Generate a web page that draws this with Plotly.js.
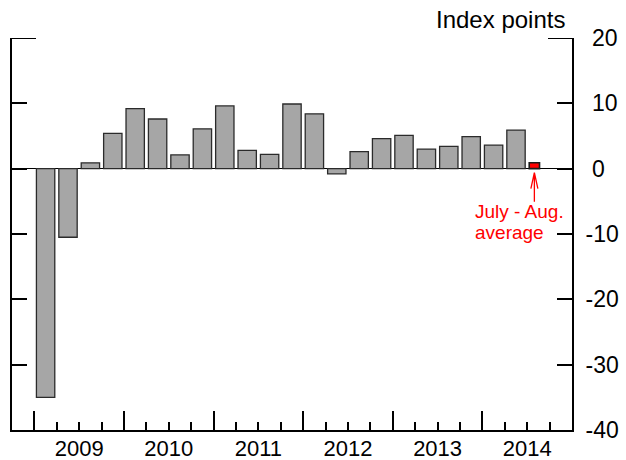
<!DOCTYPE html>
<html>
<head>
<meta charset="utf-8">
<script src="https://cdn.plot.ly/plotly-3.0.1.min.js"></script>
<style>html,body{margin:0;padding:0;background:#fff;}#chart{width:626px;height:460px;}</style>
</head>
<body>
<div id="chart"></div>
<script>
// ---- data ----
const quarters = ['2008Q4','2009Q1','2009Q2','2009Q3','2009Q4','2010Q1','2010Q2','2010Q3','2010Q4',
  '2011Q1','2011Q2','2011Q3','2011Q4','2012Q1','2012Q2','2012Q3','2012Q4',
  '2013Q1','2013Q2','2013Q3','2013Q4','2014Q1','2014Q2','2014Q3','2014Q4'];
const values = [null, -35, -10.5, 0.9, 5.4, 9.2, 7.6, 2.1, 6.1, 9.6, 2.8, 2.2, 9.9, 8.4,
  -0.8, 2.6, 4.6, 5.1, 3.0, 3.4, 4.9, 3.6, 5.9, null, null];
const partialQuarter = '2014Q3';
const partialValue = 0.9;
const years = ['2009','2010','2011','2012','2013','2014'];
const yTicks = [-40, -30, -20, -10, 0, 10, 20];
const yTickText = ['-40', '-30', '-20', '-10', '\u00a00', '\u00a010', '\u00a020'];
const unitLabel = 'Index points';
const noteLines = ['July - Aug.', 'average'];

// ---- derived positions ----
const xIdx = quarters.map((q, i) => i);
const q1Idx = quarters.map((q, i) => q.endsWith('Q1') ? i : -1).filter(i => i >= 0);
const yearBoundaries = q1Idx.map(i => i - 0.5);
const yearCenters = years.map(y => quarters.indexOf(y + 'Q1') + 1.5);
const quarterBoundaries = xIdx.slice(1).map(i => i - 0.5).filter(b => yearBoundaries.indexOf(b) < 0);
const partialIdx = quarters.indexOf(partialQuarter);
const xRange = [-0.5, quarters.length - 0.5];
const partialWidth = 0.46, partialOffset = -0.41;

const FONT = 'Liberation Sans, Arial, sans-serif';

const traces = [
  {
    type: 'bar', x: xIdx, y: values, width: 0.82,
    marker: {color: '#a6a6a6', line: {color: '#2b2b2b', width: 1.3}},
    hoverinfo: 'skip', showlegend: false
  },
  {
    type: 'bar', x: [partialIdx], y: [partialValue], width: partialWidth, offset: partialOffset,
    marker: {color: '#ff0000', line: {color: '#1a1a1a', width: 1.6}},
    hoverinfo: 'skip', showlegend: false
  },
  {
    type: 'scatter', x: [], y: [], xaxis: 'x2', yaxis: 'y', showlegend: false, hoverinfo: 'skip'
  }
];

const layout = {
  width: 626, height: 460,
  margin: {l: 12, r: 54, t: 38, b: 30},
  paper_bgcolor: '#fff', plot_bgcolor: '#fff',
  font: {family: FONT, color: '#000', size: 22},
  barmode: 'overlay',
  showlegend: false,
  xaxis: {
    range: xRange, showgrid: false, zeroline: false,
    showline: true, linecolor: '#000', linewidth: 2,
    tickmode: 'array', tickvals: yearBoundaries, ticks: 'inside', ticklen: 19, tickwidth: 2, tickcolor: '#000',
    showticklabels: false,
    minor: {tickmode: 'array', tickvals: quarterBoundaries, ticks: 'inside', ticklen: 8, tickwidth: 2, tickcolor: '#000', showgrid: false}
  },
  xaxis2: {
    overlaying: 'x', anchor: 'y', side: 'bottom', range: xRange,
    showgrid: false, zeroline: false, showline: false, ticks: '',
    tickmode: 'array', tickvals: yearCenters, ticktext: years,
    tickfont: {size: 22, family: FONT}, ticklabelstandoff: 3
  },
  yaxis: {
    range: [-40, 20], side: 'right', showgrid: false,
    zeroline: true, zerolinecolor: '#000', zerolinewidth: 1.5,
    showline: true, linecolor: '#000', linewidth: 2, mirror: 'ticks',
    tickmode: 'array', tickvals: yTicks, ticktext: yTickText,
    ticks: 'inside', ticklen: 15, tickwidth: 2, tickcolor: '#000',
    tickfont: {size: 23, family: FONT}, ticklabelstandoff: 7
  },
  shapes: [
    {type: 'line', xref: 'paper', xsizemode: 'pixel', xanchor: 0, x0: 0, x1: 24, yref: 'y', y0: 20, y1: 20, line: {color: '#000', width: 2}},
    {type: 'line', xref: 'paper', xsizemode: 'pixel', xanchor: 1, x0: -24, x1: 0, yref: 'y', y0: 20, y1: 20, line: {color: '#000', width: 2}},
    {type: 'path', xref: 'x', yref: 'y', xsizemode: 'pixel', ysizemode: 'pixel',
     xanchor: partialIdx + partialOffset + partialWidth / 2, yanchor: 0,
     path: 'M0,-4V-33M-3.5,-20L0,-4L3.5,-20', line: {color: '#ff0000', width: 1.3}}
  ],
  annotations: [
    {text: unitLabel, xref: 'paper', yref: 'paper', x: 0.9905, y: 1, xanchor: 'right', yanchor: 'middle', yshift: 19,
     showarrow: false, font: {size: 24, family: FONT, color: '#000'}},
    {text: noteLines[0], xref: 'paper', yref: 'y', x: 0.8238, y: -6.6, xanchor: 'left', yanchor: 'middle',
     showarrow: false, font: {size: 19, family: FONT, color: '#ff0000'}},
    {text: noteLines[1], xref: 'paper', yref: 'y', x: 0.8238, y: -9.8, xanchor: 'left', yanchor: 'middle',
     showarrow: false, font: {size: 19, family: FONT, color: '#ff0000'}}
  ]
};

Plotly.newPlot('chart', traces, layout, {displayModeBar: false, staticPlot: true});
</script>
</body>
</html>
